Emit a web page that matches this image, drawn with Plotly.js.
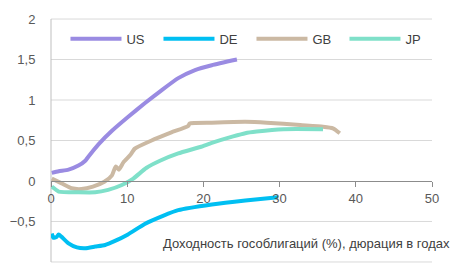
<!DOCTYPE html>
<html>
<head>
<meta charset="utf-8">
<script src="https://cdn.plot.ly/plotly-3.0.1.min.js"></script>
<style>html,body{margin:0;padding:0;background:#fff;}#chart{width:452px;height:265px;}</style>
</head>
<body>
<div id="chart"></div>
<script>
// Series names
var seriesNames = ["US", "DE", "GB", "JP"];

// US: duration (years) and yield (%)
var usX = [0.1, 1.0, 2.3, 3.6, 4.5, 4.9, 6.2, 8.0, 10.1, 12.3, 14.5, 16.7, 18.9, 21.1, 24.4];
var usY = [0.10, 0.12, 0.14, 0.19, 0.25, 0.30, 0.45, 0.62, 0.79, 0.96, 1.12, 1.27, 1.37, 1.43, 1.50];

// DE
var deX = [0.1, 0.3, 0.75, 1.0, 1.4, 2.3, 3.4, 4.5, 5.8, 7.1, 8.4, 10.1, 12.3, 14.7, 16.7, 21.1, 25.5, 29.8];
var deY = [-0.65, -0.70, -0.69, -0.66, -0.69, -0.77, -0.82, -0.83, -0.81, -0.79, -0.74, -0.66, -0.53, -0.43, -0.36, -0.29, -0.24, -0.20];

// GB
var gbX = [0.1, 1.4, 2.7, 4.0, 5.5, 7.0, 8.0, 8.5, 8.9, 9.5, 10.4, 11.0, 13.2, 15.8, 18.0, 18.2, 21.1, 25.5, 28.3, 32.7, 35.7, 37.0, 37.9];
var gbY = [0.03, -0.03, -0.09, -0.10, -0.07, -0.01, 0.07, 0.18, 0.14, 0.23, 0.32, 0.40, 0.50, 0.60, 0.68, 0.71, 0.72, 0.73, 0.72, 0.69, 0.67, 0.65, 0.59];

// JP
var jpX = [0.1, 1.0, 3.6, 5.8, 7.5, 9.3, 10.8, 12.5, 14.3, 16.7, 19.6, 21.1, 23.9, 25.5, 27.0, 30.5, 35.7];
var jpY = [-0.07, -0.13, -0.14, -0.14, -0.11, -0.05, 0.03, 0.16, 0.25, 0.34, 0.42, 0.47, 0.55, 0.59, 0.61, 0.64, 0.64];

// Axis ticks
var xTicks = [0, 10, 20, 30, 40, 50];
var yTicks = [-1, -0.5, 0, 0.5, 1, 1.5, 2];

var axisTitle = "Доходность гособлигаций (%), дюрация в годах";

var colors = ["#9a8be2", "#00bff2", "#cbb9a3", "#7fe0c9"];
var xs = [usX, deX, gbX, jpX];
var ys = [usY, deY, gbY, jpY];

var traces = seriesNames.map(function (n, i) {
  return {
    type: "scatter", mode: "lines", name: n, x: xs[i], y: ys[i],
    line: {color: colors[i], width: 4, shape: "spline", smoothing: 0.5},
    hoverinfo: "skip"
  };
});

var font = {family: "'Liberation Sans', Arial, sans-serif", size: 13, color: "#595959"};

var yPad = 0.025;
var yLo = yTicks[0] - yPad, yHi = yTicks[yTicks.length - 1] + yPad;
var zeroPos = (0 - yLo) / (yHi - yLo);

// Horizontal gridlines at each y tick (except 0, where the x axis line is), plus the left axis line
var gridShapes = yTicks.filter(function (v) { return v !== 0; }).map(function (v) {
  return {type: "line", xref: "paper", yref: "y", x0: 0, x1: 1, y0: v, y1: v,
          line: {color: "#d9d9d9", width: 1}, layer: "between"};
});
gridShapes.push({type: "line", xref: "paper", yref: "y", x0: 0, x1: 0,
                 y0: yTicks[0], y1: yTicks[yTicks.length - 1],
                 line: {color: "#bfbfbf", width: 1}, layer: "between"});

var layout = {
  width: 452, height: 265,
  margin: {l: 51, r: 20, t: 17, b: 1, pad: 0},
  paper_bgcolor: "#ffffff", plot_bgcolor: "#ffffff",
  font: font,
  separators: ",.",
  showlegend: true,
  legend: {
    orientation: "h", x: 0.038, xanchor: "left", y: 0.912, yanchor: "middle",
    itemwidth: 51, entrywidth: 27, entrywidthmode: "pixels",
    font: {family: font.family, size: 13, color: "#404040"},
    bgcolor: "rgba(0,0,0,0)"
  },
  xaxis: {
    range: [0, 50], tickmode: "array", tickvals: xTicks, ticktext: xTicks.map(String),
    showgrid: false, zeroline: false,
    showline: true, linecolor: "#8c8c8c", linewidth: 1,
    anchor: "free", position: zeroPos,
    ticks: "outside", ticklen: 5, tickcolor: "#8c8c8c",
    tickfont: {family: font.family, size: 13, color: "#595959"}
  },
  yaxis: {
    range: [yLo, yHi], tickmode: "array", tickvals: yTicks,
    showgrid: false, zeroline: false, showline: false,
    ticks: "outside", ticklen: 12, tickcolor: "rgba(0,0,0,0)",
    tickfont: {family: font.family, size: 13, color: "#595959"}
  },
  shapes: gridShapes,
  annotations: [{
    text: axisTitle, xref: "paper", yref: "paper",
    x: 1.0525, xanchor: "right", y: (-0.775 - yLo) / (yHi - yLo), yanchor: "middle",
    showarrow: false, font: {family: font.family, size: 13, color: "#404040"}
  }]
};

Plotly.newPlot("chart", traces, layout, {staticPlot: true, displayModeBar: false});
</script>
</body>
</html>
